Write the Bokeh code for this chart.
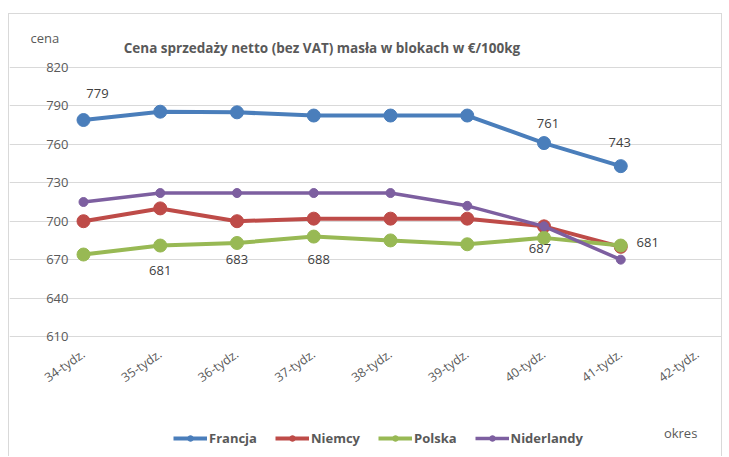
import math
from bokeh.plotting import figure
from bokeh.models import (Range1d, FixedTicker, ColumnDataSource, Legend,
                          LegendItem, Label)
from bokeh.embed import file_html
from bokeh.resources import INLINE
from bokeh.core.properties import value

# ---- data ----
weeks = ["34-tydz.", "35-tydz.", "36-tydz.", "37-tydz.", "38-tydz.",
         "39-tydz.", "40-tydz.", "41-tydz.", "42-tydz."]
francja = [779, 785.5, 785, 782.5, 782.5, 782.5, 761, 743]
niemcy = [700, 710, 700, 702, 702, 702, 696, 680]
polska = [674, 681, 683, 688, 685, 682, 687, 681]
niderlandy = [715, 722, 722, 722, 722, 712, 696, 670]
y_ticks = [610, 640, 670, 700, 730, 760, 790, 820]

title_text = "Cena sprzedaży netto (bez VAT) masła w blokach w €/100kg"
y_title = "cena"
x_title = "okres"

# data labels: (series, index)
fr_label_idx = [0, 6, 7]
pl_label_idx = [1, 2, 3, 6, 7]

FONT = "Open Sans"
GRAY = "#595959"
C_FR = "#4A7EBB"
C_DE = "#BE4B48"
C_PL = "#98B954"
C_NL = "#7D5FA0"

# ---- geometry (pixels, canvas starts at page (9, 14)) ----
W, H = 714, 443
PLOT_L, PLOT_R = 74, 688
PLOT_T, PLOT_B = 53, 322
Y_MIN, Y_MAX = y_ticks[0], y_ticks[-1]
X_MAX = len(weeks) - 1
xpx = (PLOT_R - PLOT_L) / X_MAX
ypx = (PLOT_B - PLOT_T) / (Y_MAX - Y_MIN)
x0 = -PLOT_L / xpx
x1 = X_MAX + (W - PLOT_R) / xpx
y1 = Y_MAX + PLOT_T / ypx
y0 = Y_MIN - (H - PLOT_B) / ypx

xs = list(range(len(francja)))

p = figure(width=W, height=H, output_backend="svg", toolbar_location=None,
           x_range=Range1d(x0, x1), y_range=Range1d(y0, y1),
           min_border=0, outline_line_color=None)
p.styles = {"border-top": "1px solid #d9d9d9", "border-left": "1px solid #d9d9d9",
            "border-right": "1px solid #d9d9d9", "margin-top": "13px",
            "margin-left": "8px"}

p.xgrid.grid_line_color = None
p.ygrid.grid_line_color = "#d9d9d9"
p.ygrid.grid_line_width = 1
p.ygrid.bounds = (0, X_MAX)
p.yaxis.ticker = FixedTicker(ticks=y_ticks)
p.xaxis.ticker = FixedTicker(ticks=list(range(len(weeks))))
p.xaxis.major_label_overrides = {i: w for i, w in enumerate(weeks)}
p.xaxis.major_label_orientation = 0.61
p.xaxis.fixed_location = Y_MIN
p.yaxis.fixed_location = 0
for ax in (p.xaxis, p.yaxis):
    ax.axis_line_color = None
    ax.major_tick_line_color = None
    ax.minor_tick_line_color = None
    ax.major_label_text_font = FONT
    ax.major_label_text_color = GRAY
p.yaxis.major_label_text_font_size = "13px"
p.yaxis.major_label_standoff = 9
p.xaxis.major_label_text_font_size = "12.5px"
p.xaxis.major_label_standoff = 10

series = [("Francja", francja, C_FR, 4, 13),
          ("Niemcy", niemcy, C_DE, 4, 13),
          ("Polska", polska, C_PL, 4, 13),
          ("Niderlandy", niderlandy, C_NL, 3.5, 9)]
items = []
for name, vals, col, lw, ms in series:
    src = ColumnDataSource(dict(x=xs, y=vals))
    ln = p.line("x", "y", source=src, line_color=col, line_width=lw)
    sc = p.scatter("x", "y", source=src, size=ms, fill_color=col, line_color=col)
    items.append(LegendItem(label=name, renderers=[ln, sc]))

# data labels
lab_x = [xs[i] for i in fr_label_idx] + [xs[i] for i in pl_label_idx]
lab_y = [francja[i] for i in fr_label_idx] + [polska[i] for i in pl_label_idx]
lab_t = [str(round(francja[i])) for i in fr_label_idx] + [str(round(polska[i])) for i in pl_label_idx]
lab_dx = [14, 4, -1, 0, 0, 5, -4, 27]
lab_dy = [-27, -20, -24, 25, 17, 23, 11, -3]
p.text(x=lab_x, y=lab_y, text=lab_t, x_offset=lab_dx, y_offset=lab_dy,
       text_align="center", text_baseline="middle", text_font=value(FONT),
       text_font_size="13px", text_color="#404040")

legend = Legend(items=items, orientation="horizontal", location=(164, 10),
                border_line_color=None, background_fill_alpha=0,
                glyph_width=34, glyph_height=14, label_standoff=2, spacing=18,
                padding=0, margin=0, label_text_font=FONT,
                label_text_font_style="bold", label_text_font_size="13px",
                label_text_color=GRAY)
p.add_layout(legend, "center")

p.add_layout(Label(x=3.107, y=Y_MAX + 20 / ypx, text=title_text, text_align="center",
                   text_baseline="middle", text_font=FONT, text_font_style="bold",
                   text_font_size="13.5px", text_color=GRAY))
p.add_layout(Label(x=-0.69, y=Y_MAX + 30 / ypx, text=y_title, text_align="left",
                   text_baseline="middle", text_font=FONT,
                   text_font_size="13px", text_color=GRAY))
p.add_layout(Label(x=7.78, y=Y_MIN - 96 / ypx, text=x_title, text_align="center",
                   text_baseline="middle", text_font=FONT,
                   text_font_size="13px", text_color=GRAY))

open("out.html", "w").write(file_html(p, INLINE))
